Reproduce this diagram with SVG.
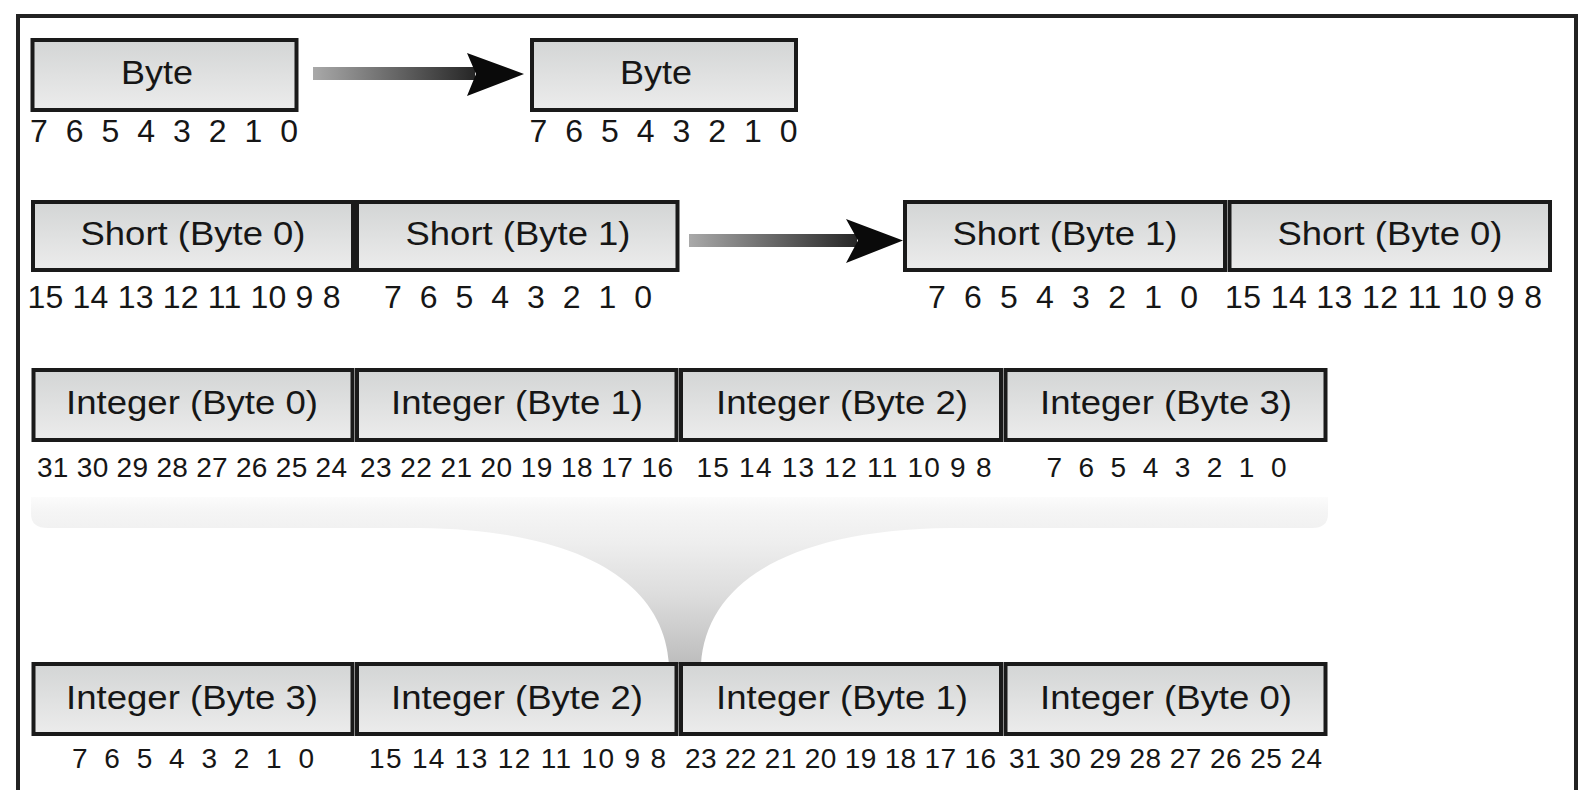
<svg xmlns="http://www.w3.org/2000/svg" width="1581" height="790" viewBox="0 0 1581 790">
<defs>
<linearGradient id="boxFill" x1="0" y1="0" x2="0" y2="1">
<stop offset="0" stop-color="#d3d5d5"/>
<stop offset="1" stop-color="#ececec"/>
</linearGradient>
<linearGradient id="shaft" x1="0" y1="0" x2="1" y2="0">
<stop offset="0" stop-color="#a9a9a9"/>
<stop offset="1" stop-color="#262626"/>
</linearGradient>
<linearGradient id="funnelFill" gradientUnits="userSpaceOnUse" x1="0" y1="490" x2="0" y2="664">
<stop offset="0" stop-color="#ffffff"/>
<stop offset="0.12" stop-color="#f5f5f5"/>
<stop offset="0.3" stop-color="#eeeeee"/>
<stop offset="0.6" stop-color="#dddddd"/>
<stop offset="1" stop-color="#bdbdbd"/>
</linearGradient>
</defs>
<style>
.box{fill:url(#boxFill);stroke:#1a1a1a;stroke-width:4}
.lbl{font-family:"Liberation Sans",Arial,sans-serif;font-size:34px;fill:#161616;text-anchor:middle}
.bits{font-family:"Liberation Sans",Arial,sans-serif;font-size:32px;fill:#161616}
.bits2{font-family:"Liberation Sans",Arial,sans-serif;font-size:28px;fill:#161616}
.head{fill:#0a0a0a}
</style>
<rect x="18" y="16" width="1558" height="800" fill="#ffffff" stroke="#222222" stroke-width="4"/>

<g id="connectors">
<rect x="313" y="67" width="162" height="13" fill="url(#shaft)"/>
<path class="head" d="M467,53 L524,74 L467,96 L476,74 Z"/>
<rect x="689" y="234" width="168" height="13" fill="url(#shaft)"/>
<path class="head" d="M846,219 L903,240.5 L846,263 L858,240.5 Z"/>
<path id="funnel" fill="url(#funnelFill)" d="M31,497 L1328,497 L1328,514 Q1328,528 1312,528 L950,528 C785,530 706,585 701,664 L669,664 C664,585 585,530 420,528 L48,528 Q31,528 31,514 Z"/>
</g>

<g id="row1-source">
<rect class="box" x="32.5" y="40" width="264" height="70"/>
<text class="lbl" x="157" y="84" textLength="72" lengthAdjust="spacingAndGlyphs">Byte</text>
<text class="bits" x="30" y="142" textLength="268" lengthAdjust="spacing">7 6 5 4 3 2 1 0</text>
</g>
<g id="row1-result">
<rect class="box" x="532" y="40" width="264" height="70"/>
<text class="lbl" x="656" y="84" textLength="72" lengthAdjust="spacingAndGlyphs">Byte</text>
<text class="bits" x="529.5" y="142" textLength="268" lengthAdjust="spacing">7 6 5 4 3 2 1 0</text>
</g>

<g id="row2-short-byte0">
<rect class="box" x="33" y="202" width="320" height="68"/>
<text class="lbl" x="193" y="245" textLength="225" lengthAdjust="spacingAndGlyphs">Short (Byte 0)</text>
<text class="bits" x="27.5" y="308" textLength="313" lengthAdjust="spacing">15 14 13 12 11 10 9 8</text>
</g>
<g id="row2-short-byte1">
<rect class="box" x="357" y="202" width="320.5" height="68"/>
<text class="lbl" x="518" y="245" textLength="225" lengthAdjust="spacingAndGlyphs">Short (Byte 1)</text>
<text class="bits" x="384" y="308" textLength="268" lengthAdjust="spacing">7 6 5 4 3 2 1 0</text>
</g>
<g id="row2-swapped-byte1">
<rect class="box" x="905" y="202" width="320" height="68"/>
<text class="lbl" x="1065" y="245" textLength="225" lengthAdjust="spacingAndGlyphs">Short (Byte 1)</text>
<text class="bits" x="928" y="308" textLength="270" lengthAdjust="spacing">7 6 5 4 3 2 1 0</text>
</g>
<g id="row2-swapped-byte0">
<rect class="box" x="1229.5" y="202" width="320.5" height="68"/>
<text class="lbl" x="1390" y="245" textLength="225" lengthAdjust="spacingAndGlyphs">Short (Byte 0)</text>
<text class="bits" x="1225" y="308" textLength="317" lengthAdjust="spacing">15 14 13 12 11 10 9 8</text>
</g>

<g id="row3-int-byte0">
<rect class="box" x="33.5" y="370" width="319" height="70"/>
<text class="lbl" x="192" y="414" textLength="252" lengthAdjust="spacingAndGlyphs">Integer (Byte 0)</text>
<text class="bits2" x="37" y="477" textLength="310" lengthAdjust="spacing">31 30 29 28 27 26 25 24</text>
</g>
<g id="row3-int-byte1">
<rect class="box" x="357" y="370" width="319.5" height="70"/>
<text class="lbl" x="517" y="414" textLength="252" lengthAdjust="spacingAndGlyphs">Integer (Byte 1)</text>
<text class="bits2" x="360" y="477" textLength="313" lengthAdjust="spacing">23 22 21 20 19 18 17 16</text>
</g>
<g id="row3-int-byte2">
<rect class="box" x="681" y="370" width="320" height="70"/>
<text class="lbl" x="842" y="414" textLength="252" lengthAdjust="spacingAndGlyphs">Integer (Byte 2)</text>
<text class="bits2" x="696.5" y="477" textLength="295" lengthAdjust="spacing">15 14 13 12 11 10 9 8</text>
</g>
<g id="row3-int-byte3">
<rect class="box" x="1005.5" y="370" width="320" height="70"/>
<text class="lbl" x="1166" y="414" textLength="252" lengthAdjust="spacingAndGlyphs">Integer (Byte 3)</text>
<text class="bits2" x="1046.5" y="477" textLength="240" lengthAdjust="spacing">7 6 5 4 3 2 1 0</text>
</g>

<g id="row4-int-byte3">
<rect class="box" x="33.5" y="664" width="319" height="70"/>
<text class="lbl" x="192" y="709" textLength="252" lengthAdjust="spacingAndGlyphs">Integer (Byte 3)</text>
<text class="bits2" x="72" y="768" textLength="242" lengthAdjust="spacing">7 6 5 4 3 2 1 0</text>
</g>
<g id="row4-int-byte2">
<rect class="box" x="357" y="664" width="319.5" height="70"/>
<text class="lbl" x="517" y="709" textLength="252" lengthAdjust="spacingAndGlyphs">Integer (Byte 2)</text>
<text class="bits2" x="369" y="768" textLength="297" lengthAdjust="spacing">15 14 13 12 11 10 9 8</text>
</g>
<g id="row4-int-byte1">
<rect class="box" x="681" y="664" width="320" height="70"/>
<text class="lbl" x="842" y="709" textLength="252" lengthAdjust="spacingAndGlyphs">Integer (Byte 1)</text>
<text class="bits2" x="685" y="768" textLength="311" lengthAdjust="spacing">23 22 21 20 19 18 17 16</text>
</g>
<g id="row4-int-byte0">
<rect class="box" x="1005.5" y="664" width="320" height="70"/>
<text class="lbl" x="1166" y="709" textLength="252" lengthAdjust="spacingAndGlyphs">Integer (Byte 0)</text>
<text class="bits2" x="1009" y="768" textLength="313" lengthAdjust="spacing">31 30 29 28 27 26 25 24</text>
</g>
</svg>
